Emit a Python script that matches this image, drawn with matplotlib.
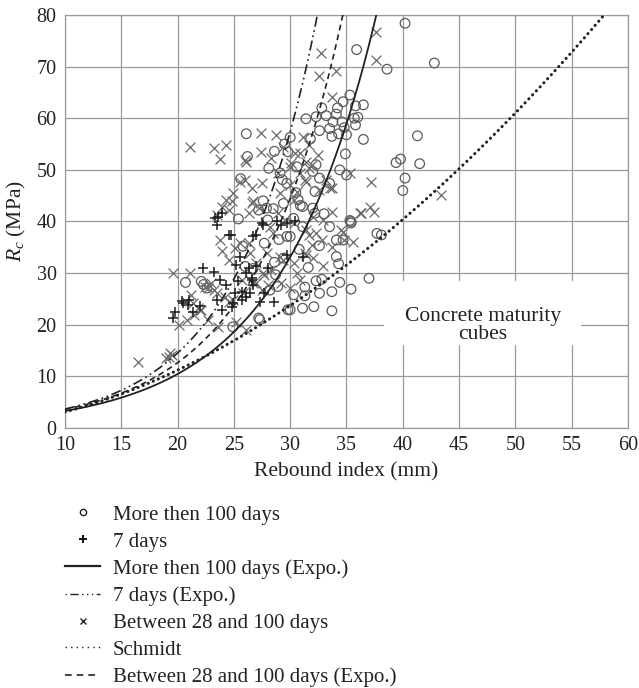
import numpy as np
import matplotlib
matplotlib.use("Agg")
import matplotlib.pyplot as plt
from matplotlib.lines import Line2D
from matplotlib.patches import Rectangle

plt.rcParams['font.family'] = ['Liberation Serif', 'DejaVu Serif']
plt.rcParams['mathtext.fontset'] = 'custom'
plt.rcParams['mathtext.rm'] = 'Liberation Serif'
plt.rcParams['mathtext.it'] = 'Liberation Serif:italic'

# ---------------- data ----------------
x_ticks = [10, 15, 20, 25, 30, 35, 40, 45, 50, 55, 60]
y_ticks = [0, 10, 20, 30, 40, 50, 60, 70, 80]

# More then 100 days (circles)
circ_x = [40.2, 42.8, 35.9, 38.6, 41.3, 39.4, 39.8, 41.5, 40.2, 40.0, 37.7, 38.1, 37.0,
          36.5, 35.8, 35.3, 34.7, 34.2, 32.8, 33.2, 34.1, 35.7, 33.8, 31.4, 32.3, 34.6,
          35.8, 34.8, 33.5, 32.6, 34.3, 33.7, 36.5, 34.9, 34.4, 35.0, 32.3, 32.6, 32.2,
          33.5, 30.7, 31.1, 32.0, 35.3, 35.4, 33.5, 34.1, 34.7, 30.3, 30.0, 31.1, 34.1,
          34.3, 31.6, 34.4, 32.3, 32.8, 31.3, 30.3, 32.6, 33.7, 35.4, 31.3, 31.1, 32.1,
          33.7, 30.0, 20.7, 22.1, 22.3, 22.6, 24.9, 27.2, 27.3, 26.0, 26.7, 28.6, 28.7,
          28.2, 28.9, 29.4, 29.8, 26.1, 26.2, 28.6, 25.6, 29.5, 30.0, 28.1, 29.3, 30.6,
          32.0, 30.9, 29.4, 27.2, 27.9, 28.5, 25.4, 28.0, 29.7, 29.1, 27.7, 29.7, 29.0,
          30.8, 32.6, 33.0, 31.8, 29.8, 30.5, 25.8, 27.6, 35.0, 36.0, 32.2, 35.4]
circ_y = [78.4, 70.7, 73.3, 69.5, 56.6, 51.4, 52.1, 51.2, 48.4, 46.0, 37.7, 37.4, 29.0,
          62.6, 62.4, 64.5, 63.2, 62.0, 62.0, 60.5, 60.8, 60.0, 59.3, 59.9, 60.3, 59.3,
          58.7, 58.2, 58.0, 57.6, 57.0, 56.5, 55.9, 53.1, 50.0, 49.0, 51.0, 48.4, 45.8,
          47.4, 44.2, 42.9, 42.6, 40.2, 39.7, 39.0, 36.4, 36.4, 40.6, 37.1, 39.0, 33.2,
          31.8, 31.1, 28.2, 28.5, 28.8, 27.3, 25.8, 26.1, 26.4, 26.9, 25.6, 23.2, 23.5,
          22.7, 22.9, 28.2, 28.4, 27.8, 27.1, 19.6, 21.3, 21.0, 31.3, 30.9, 32.1, 29.7,
          26.7, 27.4, 32.9, 22.9, 57.0, 52.6, 53.6, 48.3, 55.0, 56.3, 50.3, 48.1, 50.6,
          49.7, 43.1, 43.5, 42.2, 42.6, 42.5, 40.5, 40.3, 47.4, 49.4, 35.8, 37.1, 36.5,
          34.6, 35.3, 41.5, 56.0, 53.5, 45.6, 35.2, 44.0, 56.8, 60.2, 41.6, 40.0]

# 7 days (plus)
plus_x = [19.8, 19.6, 20.5, 20.9, 21.4, 22.3, 23.2, 23.8, 24.3, 23.5, 23.9, 24.8, 25.1,
          25.7, 24.9, 26.4, 26.6, 28.6, 25.4, 26.3, 25.2, 25.5, 27.7, 27.3, 23.9, 23.3,
          23.5, 24.6, 26.7, 27.5, 23.6, 28.8, 29.7, 30.4, 27.6, 27.0, 29.2, 26.1, 26.6,
          26.7, 25.7, 26.1, 22.0, 27.0, 28.0, 29.7, 31.1, 20.4, 21.0, 24.7]
plus_y = [22.5, 21.3, 24.2, 23.8, 22.5, 31.0, 30.3, 28.7, 27.7, 24.8, 22.9, 23.5, 26.1,
          26.4, 24.2, 26.1, 29.0, 24.5, 28.4, 31.0, 31.6, 33.2, 26.1, 24.5, 41.6, 40.6,
          39.3, 37.4, 37.1, 39.7, 40.9, 40.0, 39.7, 40.0, 39.3, 37.4, 39.3, 30.0, 28.7,
          27.7, 24.8, 25.4, 23.6, 31.3, 30.9, 33.5, 33.2, 24.6, 24.8, 37.4]

# Between 28 and 100 days (crosses)
cross_x = [21.1, 23.2, 24.3, 23.8, 27.45, 28.7, 29.4, 31.1, 32.5, 26.0, 27.4, 28.3, 25.5,
           26.6, 27.5, 28.9, 24.3, 24.9, 23.9, 23.5, 26.6, 26.3, 29.1, 30.0, 30.9, 31.4,
           30.3, 31.9, 31.7, 30.9, 30.0, 26.1, 26.0, 24.8, 26.7, 27.2, 24.6, 28.9, 28.2,
           29.5, 23.8, 25.5, 19.6, 21.1, 23.9, 21.2, 21.4, 21.8, 20.8, 20.1, 21.5, 22.1,
           22.7, 23.6, 22.4, 23.0, 23.5, 24.2, 24.9, 25.7, 24.6, 26.4, 27.0, 27.7, 26.7,
           27.5, 28.0, 29.2, 25.2, 26.1, 19.2, 19.3, 19.0, 29.4, 28.3, 30.4, 31.4, 30.1,
           31.7, 31.3, 33.2, 33.7, 35.3, 37.2, 30.6, 36.2, 37.1, 37.4, 33.7, 32.9, 32.0,
           30.3, 31.4, 32.3, 32.8, 34.5, 34.8, 35.6, 31.9, 31.4, 32.9, 30.3, 30.0, 34.7,
           33.7, 31.7, 31.3, 16.5, 25.1, 27.9, 29.1, 28.5, 30.6, 27.6, 23.2, 22.7, 24.6,
           27.0, 25.8, 30.9, 32.0, 37.6, 37.6, 32.7, 32.6, 34.1, 33.7, 43.4, 36.3, 32.6,
           33.5, 19.5, 22.0, 26.3]
cross_y = [54.5, 54.2, 54.8, 52.1, 57.1, 56.8, 54.5, 56.4, 52.9, 51.9, 53.5, 52.3, 47.7,
           46.4, 47.5, 49.3, 44.2, 45.5, 42.8, 41.3, 43.5, 41.6, 45.5, 47.1, 49.3, 47.7,
           44.2, 51.0, 54.8, 53.2, 50.6, 51.6, 48.1, 43.9, 43.9, 42.6, 42.2, 41.6, 39.0,
           40.3, 36.4, 35.8, 30.1, 30.1, 34.2, 25.8, 24.2, 23.2, 20.9, 20.0, 21.9, 22.9,
           20.9, 19.6, 27.4, 28.0, 26.1, 25.4, 24.8, 28.7, 32.6, 33.9, 31.9, 29.7, 28.0,
           26.7, 27.7, 28.0, 20.6, 19.0, 13.8, 14.5, 13.5, 32.6, 30.6, 53.2, 51.6, 51.3,
           50.3, 48.1, 48.1, 46.4, 49.4, 47.7, 45.8, 41.6, 42.9, 41.9, 41.9, 40.3, 40.9,
           39.7, 38.4, 37.7, 36.4, 38.4, 36.4, 36.1, 35.5, 33.5, 31.3, 31.9, 27.1, 38.0,
           35.1, 37.4, 33.9, 12.7, 34.8, 33.9, 33.2, 37.7, 30.0, 30.0, 26.7, 27.1, 24.5,
           28.0, 26.1, 28.7, 32.9, 76.7, 71.2, 72.6, 68.2, 69.2, 64.1, 45.2, 41.6, 46.1,
           46.4, 14.2, 22.9, 35.8]

# Exponential trend lines y = a * exp(b * x)  (coefficients)
expo_100_a, expo_100_b = 1.042, 0.1153      # More then 100 days (Expo.)
expo_7_a, expo_7_b = 0.928, 0.1375          # 7 days (Expo.)
expo_28_a, expo_28_b = 1.024, 0.1257        # Between 28 and 100 days (Expo.)
# Schmidt curve  y = a * x ** b
schmidt_a, schmidt_b = 0.0439, 1.85

# ---------------- figure ----------------
fig = plt.figure(figsize=(6.39, 6.88), dpi=100)
ax = fig.add_axes([65/639, 1-428/688, (628-65)/639, (428-15)/688])

grid_c = '#9a9a9a'
ax.set_xlim(10, 60)
ax.set_ylim(0, 80)
ax.set_xticks(x_ticks)
ax.set_yticks(y_ticks)
ax.grid(True, color=grid_c, linewidth=0.9)
ax.set_axisbelow(True)
for s in ax.spines.values():
    s.set_color(grid_c)
    s.set_linewidth(0.9)
ax.tick_params(length=0, labelsize=14.5, pad=6, colors='#222222')

xs = np.linspace(10, 60, 600)
ax.plot(xs, schmidt_a * xs ** schmidt_b, color='#222222', lw=2.2,
        linestyle=(0, (0.05, 1.75)), dash_capstyle='round', zorder=4)
ax.plot(xs, expo_100_a * np.exp(expo_100_b * xs), color='#222222', lw=1.3, zorder=4)
ax.plot(xs, expo_7_a * np.exp(expo_7_b * xs), color='#222222', lw=1.2,
        dashes=[6, 2.2, 1, 2.2, 1, 2.2], zorder=4)
ax.plot(xs, expo_28_a * np.exp(expo_28_b * xs), color='#222222', lw=1.2,
        dashes=[3.5, 2.5], zorder=4)

ax.scatter(circ_x, circ_y, s=48, facecolors='none', edgecolors='#5a5a5a',
           linewidths=0.9, zorder=3)
ax.scatter(cross_x, cross_y, s=50, marker='x', color='#6a6a6a',
           linewidths=0.9, zorder=3)
ax.scatter(plus_x, plus_y, s=50, marker='+', color='#1e1e1e',
           linewidths=1.1, zorder=3)

# white label box hiding the grid
ax.add_patch(Rectangle((38.3, 16.1), 17.5, 12.3, facecolor='white', edgecolor='none',
                       zorder=1.5))
ax.text(47.1, 19.8, 'Concrete maturity\ncubes', ha='center', va='center',
        fontsize=15.5, linespacing=0.95, color='#222222', zorder=5)

ax.set_xlabel('Rebound index (mm)', fontsize=15.5, color='#222222')
ax.xaxis.set_label_coords(0.5, -0.084)
ax.set_ylabel('$R_c$ (MPa)', fontsize=15.5, color='#222222')
ax.yaxis.set_label_coords(-0.066, 0.5)

handles = [
    Line2D([], [], linestyle='none', marker='o', markersize=4.5, markerfacecolor='none',
           markeredgecolor='#222222', markeredgewidth=1.0),
    Line2D([], [], linestyle='none', marker='+', markersize=5.5, color='#111111',
           markeredgewidth=1.4),
    Line2D([], [], color='#222222', lw=1.6),
    Line2D([], [], color='#222222', lw=1.0, dashes=[1, 2.5, 6, 2.5, 1, 2.5, 1, 2.5]),
    Line2D([], [], linestyle='none', marker='x', markersize=4.5, color='#222222',
           markeredgewidth=1.0),
    Line2D([], [], color='#222222', lw=1.0, linestyle=(0, (1, 3))),
    Line2D([], [], color='#222222', lw=1.2, dashes=[4, 3]),
]
labels = ['More then 100 days', '7 days', 'More then 100 days (Expo.)', '7 days (Expo.)',
          'Between 28 and 100 days', 'Schmidt', 'Between 28 and 100 days (Expo.)']
leg = fig.legend(handles, labels, loc='upper left', bbox_to_anchor=(65/639, 1-505/688),
                 frameon=False, fontsize=15, handlelength=1.68, handletextpad=0.62,
                 labelspacing=0.355, borderpad=0, borderaxespad=0)
for t in leg.get_texts():
    t.set_color('#222222')

fig.savefig('out.png', dpi=100)
